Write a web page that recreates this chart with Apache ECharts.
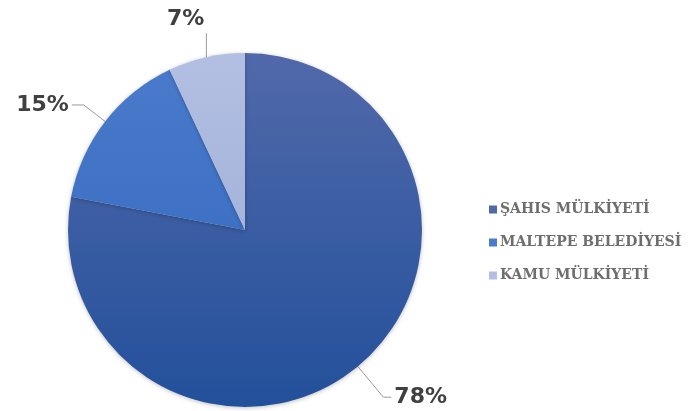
<!DOCTYPE html>
<html>
<head>
<meta charset="utf-8">
<style>
  html, body { margin: 0; padding: 0; background: #ffffff; }
  #chart { width: 689px; height: 411px; }
</style>
<script src="https://cdn.jsdelivr.net/npm/echarts@6/dist/echarts.min.js"></script>
</head>
<body>
<div id="chart"></div>
<script>
// Ownership breakdown
const categories = ['ŞAHIS MÜLKİYETİ', 'MALTEPE BELEDİYESİ', 'KAMU MÜLKİYETİ'];
const shares = [78, 15, 7];

// vertical gradient per slice, lighter at the top of the disc
function grad(top, bottom) {
  return new echarts.graphic.LinearGradient(0, 54, 0, 406, [
    { offset: 0, color: top },
    { offset: 1, color: bottom }
  ], true);
}
const sliceColors = [
  grad('#5169aa', '#23509b'),
  grad('#4a7bcc', '#3265bb'),
  grad('#b3bfe2', '#97a9d5')
];
const legendColors = ['#3558a3', '#4272c6', '#a6b5dc'];

// label line lengths per slice
const lineLen = [[40, 8], [27, 12], [24, 0]];

const chart = echarts.init(document.getElementById('chart'), null, { renderer: 'canvas' });

chart.setOption({
  animation: false,
  color: legendColors,
  legend: {
    orient: 'vertical',
    left: 484,
    top: 197,
    itemWidth: 8,
    itemHeight: 8,
    itemGap: 18,
    icon: 'rect',
    textStyle: {
      fontFamily: 'DejaVu Serif',
      fontWeight: 'bold',
      fontSize: 14,
      lineHeight: 15,
      color: '#6e6e6e',
      padding: [0, 0, 0, -2]
    },
    data: categories
  },
  series: [{
    type: 'pie',
    center: [245, 230],
    radius: [0, 177],
    startAngle: 90,
    clockwise: true,
    avoidLabelOverlap: false,
    itemStyle: {
      borderWidth: 0,
      shadowBlur: 4,
      shadowOffsetY: 1,
      shadowColor: 'rgba(0,0,0,0.25)'
    },
    label: {
      show: true,
      position: 'outside',
      formatter: '{c}%',
      fontFamily: 'DejaVu Sans',
      fontWeight: 'bold',
      fontSize: 22,
      color: '#404040',
      distanceToLabelLine: 3
    },
    labelLine: {
      show: true,
      lineStyle: { color: '#9a9a9a', width: 1 }
    },
    labelLayout: function (params) {
      // the smallest slice gets a straight vertical leader with its label sitting on top
      if (params.dataIndex === 2 && params.labelLinePoints) {
        const p0 = params.labelLinePoints[0];
        const top = [p0[0], p0[1] - 24];
        return {
          x: top[0] - 2,
          y: top[1] - 3,
          align: 'right',
          verticalAlign: 'bottom',
          labelLinePoints: [p0, top, top]
        };
      }
      return {};
    },
    data: categories.map((name, i) => ({
      name: name,
      value: shares[i],
      itemStyle: { color: sliceColors[i] },
      labelLine: { length: lineLen[i][0], length2: lineLen[i][1] }
    }))
  }]
});
</script>
</body>
</html>
